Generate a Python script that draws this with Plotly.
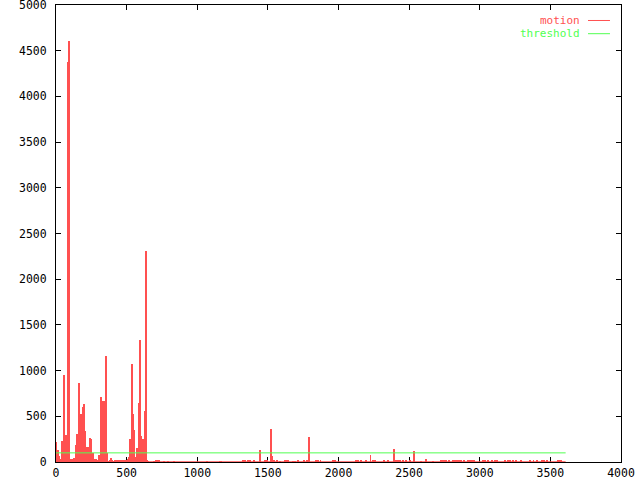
import plotly.graph_objects as go

# ---- data (frame number, motion value) ----
dense_frames = [0, 7, 14, 21, 28, 35, 42, 50, 57, 64, 71, 78, 85, 92, 99, 106,
                113, 120, 127, 135, 142, 149, 156, 163, 170, 177, 184, 191, 198,
                205, 212, 219, 227, 234, 241, 248, 255, 262, 269, 276, 283, 290,
                297, 304, 312, 319, 326, 333, 340, 347, 354, 361, 368, 375, 382,
                389, 396, 404, 411, 418, 425, 432, 439, 446, 453, 460, 467, 474,
                481, 488, 496, 503, 510, 517, 524, 531, 538, 545, 552, 559, 566,
                573, 581, 588, 595, 602, 609, 616, 623, 630, 637, 644, 651]
dense_values = [222, 30, 131, 65, 22, 30, 233, 952, 5, 295, 266, 4380, 4610, 343,
                30, 20, 30, 20, 40, 186, 306, 204, 868, 496, 525, 40, 15, 605,
                635, 343, 124, 168, 168, 266, 252, 5, 95, 30, 15, 30, 30, 15, 20,
                77, 715, 670, 233, 670, 266, 1160, 100, 30, 5, 5, 20, 40, 15, 10,
                20, 10, 15, 20, 10, 15, 15, 10, 20, 15, 10, 15, 20, 30, 60, 252,
                55, 1075, 965, 525, 345, 35, 50, 150, 645, 1335, 284, 252, 252,
                252, 555, 555, 2310, 15, 10]

sparse_frames = [687, 701, 708, 722, 729, 758, 786, 835, 1062, 1154, 1168, 1317,
                 1338, 1359, 1373, 1395, 1444, 1473, 1487, 1522, 1529, 1543, 1558,
                 1579, 1621, 1635, 1642, 1671, 1692, 1713, 1749, 1770, 1784, 1791,
                 1834, 1848, 1869, 1961, 1968, 1975, 2117, 2131, 2159, 2188, 2223,
                 2244, 2258, 2322, 2350, 2386, 2407, 2421, 2435, 2450, 2471, 2506,
                 2534, 2584, 2619, 2662, 2719, 2733, 2747, 2761, 2782, 2804, 2818,
                 2832, 2853, 2867, 2888, 2910, 2924, 2945, 2959, 3016, 3037, 3058,
                 3080, 3101, 3122, 3172, 3193, 3214, 3235, 3250, 3285, 3349, 3377,
                 3405, 3434, 3448, 3476, 3547, 3561, 3575]
sparse_values = [10, 12, 12, 12, 12, 10, 10, 10, 10, 10, 10, 12, 12, 12, 12, 12,
                 131, 22, 12, 361, 70, 12, 12, 10, 12, 12, 12, 10, 10, 12, 20, 12,
                 12, 273, 12, 12, 12, 12, 20, 12, 12, 12, 12, 12, 77, 12, 20, 12,
                 20, 142, 12, 12, 12, 12, 12, 15, 120, 10, 33, 10, 12, 12, 12, 12,
                 12, 12, 12, 12, 12, 12, 20, 12, 12, 12, 20, 12, 12, 12, 12, 12, 12,
                 12, 12, 12, 12, 12, 12, 12, 12, 12, 20, 20, 12, 20, 12, 12]

first_frame = 0
last_frame = 3608
threshold = 100

x_ticks = [0, 500, 1000, 1500, 2000, 2500, 3000, 3500, 4000]
y_ticks = [0, 500, 1000, 1500, 2000, 2500, 3000, 3500, 4000, 4500, 5000]

RED = "#ff5050"
GREEN = "#50ff50"
FONT = "DejaVu Sans Mono"

motion_frames = dense_frames + sparse_frames
motion_values = dense_values + sparse_values

fig = go.Figure()
fig.add_trace(go.Bar(x=motion_frames, y=motion_values, width=7.1, offset=0,
                     marker=dict(color=RED, line=dict(width=0)),
                     name="motion", showlegend=False))
fig.add_trace(go.Scatter(x=[first_frame, last_frame], y=[0, 0], mode="lines",
                         line=dict(color=RED, width=1.5), showlegend=False,
                         hoverinfo="skip"))
fig.add_trace(go.Scatter(x=[first_frame, last_frame], y=[threshold, threshold],
                         mode="lines", line=dict(color=GREEN, width=1),
                         name="threshold", showlegend=False))

axis_common = dict(showgrid=False, zeroline=False, showline=True, linecolor="black",
                   linewidth=1, mirror="allticks", ticks="inside", ticklen=5,
                   tickcolor="black", tickwidth=1, layer="below traces",
                   automargin=False, ticklabeloverflow="allow",
                   tickfont=dict(family=FONT, size=11.5, color="black"))

fig.update_layout(
    width=640, height=480,
    margin=dict(l=56, r=19, t=5, b=18),
    paper_bgcolor="white", plot_bgcolor="white",
    showlegend=False, bargap=0,
    xaxis=dict(range=[0, 4000], tickvals=x_ticks,
               ticktext=[str(v) for v in x_ticks], ticklabelstandoff=0, **axis_common),
    yaxis=dict(range=[0, 5000], tickvals=y_ticks,
               ticktext=[str(v) for v in y_ticks], ticklabelstandoff=6, **axis_common),
)

# gnuplot-style key: text right-aligned, line sample to the right
for label, color, yy in [("motion", RED, 0.9661), ("threshold", GREEN, 0.9372)]:
    fig.add_annotation(xref="paper", yref="paper", x=0.9295, y=yy, text=label,
                       showarrow=False, xanchor="right", yanchor="middle",
                       font=dict(family=FONT, size=11, color=color), borderpad=0,
                       height=11)
    fig.add_shape(type="line", xref="paper", yref="paper", x0=0.9416, x1=0.9805,
                  y0=yy, y1=yy, line=dict(color=color, width=1))

fig.write_html("out.html", config={"displayModeBar": False},
               post_script="document.body.style.margin='0';document.body.style.overflow='hidden';")
